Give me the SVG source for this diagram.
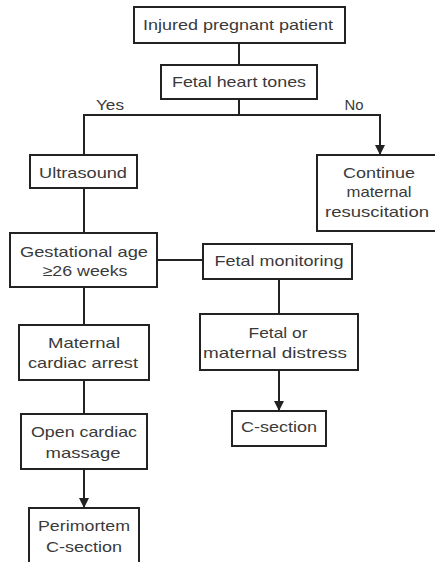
<svg xmlns="http://www.w3.org/2000/svg" width="435" height="562" viewBox="0 0 435 562">
<style>
.box{fill:#fff;stroke:#222;stroke-width:2}
.t{font-family:"Liberation Sans",Arial,sans-serif;font-size:15px;fill:#3a3a3a;text-anchor:middle}
.c{fill:none;stroke:#222;stroke-width:2}
</style>
<defs>
<marker id="ah" markerWidth="10" markerHeight="10" refX="9" refY="5" orient="auto" markerUnits="userSpaceOnUse">
<path d="M0,0 L10,5 L0,10 Z" fill="#222"/>
</marker>
</defs>
<rect width="435" height="562" fill="#fff"/>
<g id="connectors">
<line class="c" x1="239" y1="43" x2="239" y2="65"/>
<line class="c" x1="239" y1="99" x2="239" y2="115"/>
<polyline class="c" points="84,155 84,115 380,115 380,154" marker-end="url(#ah)"/>
<line class="c" x1="84" y1="188" x2="84" y2="233"/>
<line class="c" x1="157" y1="260" x2="203" y2="260"/>
<line class="c" x1="279" y1="279" x2="279" y2="314"/>
<line class="c" x1="84" y1="287" x2="84" y2="325"/>
<line class="c" x1="84" y1="380" x2="84" y2="414"/>
<line class="c" x1="84" y1="469" x2="84" y2="507" marker-end="url(#ah)"/>
<line class="c" x1="279" y1="370" x2="279" y2="410" marker-end="url(#ah)"/>
<text class="t" x="110" y="110" textLength="28" lengthAdjust="spacingAndGlyphs">Yes</text>
<text class="t" x="354" y="110" textLength="19" lengthAdjust="spacingAndGlyphs">No</text>
</g>
<g id="n1"><rect class="box" x="134" y="7" width="211" height="36"/>
<text class="t" x="238" y="30" textLength="190" lengthAdjust="spacingAndGlyphs">Injured pregnant patient</text></g>
<g id="n2"><rect class="box" x="161" y="65" width="156" height="34"/>
<text class="t" x="239" y="87" textLength="134" lengthAdjust="spacingAndGlyphs">Fetal heart tones</text></g>
<g id="n3"><rect class="box" x="30" y="155" width="107" height="33"/>
<text class="t" x="83" y="178" textLength="88" lengthAdjust="spacingAndGlyphs">Ultrasound</text></g>
<g id="n4"><rect class="box" x="317" y="155" width="124" height="76"/>
<text class="t" x="379" y="178" textLength="72" lengthAdjust="spacingAndGlyphs">Continue</text>
<text class="t" x="379" y="197" textLength="65" lengthAdjust="spacingAndGlyphs">maternal</text>
<text class="t" x="377" y="217" textLength="104" lengthAdjust="spacingAndGlyphs">resuscitation</text></g>
<g id="n5"><rect class="box" x="10" y="233" width="147" height="54"/>
<text class="t" x="84" y="257" textLength="128" lengthAdjust="spacingAndGlyphs">Gestational age</text>
<text class="t" x="85" y="276" textLength="85" lengthAdjust="spacingAndGlyphs">≥26 weeks</text></g>
<g id="n6"><rect class="box" x="203" y="244" width="149" height="35"/>
<text class="t" x="279" y="266" textLength="129" lengthAdjust="spacingAndGlyphs">Fetal monitoring</text></g>
<g id="n7"><rect class="box" x="200" y="314" width="158" height="56"/>
<text class="t" x="278" y="338" textLength="59" lengthAdjust="spacingAndGlyphs">Fetal or</text>
<text class="t" x="275" y="358" textLength="144" lengthAdjust="spacingAndGlyphs">maternal distress</text></g>
<g id="n8"><rect class="box" x="19" y="325" width="130" height="55"/>
<text class="t" x="84" y="348" textLength="72" lengthAdjust="spacingAndGlyphs">Maternal</text>
<text class="t" x="83" y="368" textLength="110" lengthAdjust="spacingAndGlyphs">cardiac arrest</text></g>
<g id="n9"><rect class="box" x="21" y="414" width="126" height="55"/>
<text class="t" x="84" y="437" textLength="106" lengthAdjust="spacingAndGlyphs">Open cardiac</text>
<text class="t" x="83" y="458" textLength="75" lengthAdjust="spacingAndGlyphs">massage</text></g>
<g id="n10"><rect class="box" x="232" y="411" width="94" height="35"/>
<text class="t" x="279" y="432" textLength="76" lengthAdjust="spacingAndGlyphs">C-section</text></g>
<g id="n11"><rect class="box" x="29" y="508" width="110" height="60"/>
<text class="t" x="84" y="531" textLength="92" lengthAdjust="spacingAndGlyphs">Perimortem</text>
<text class="t" x="84" y="552" textLength="76" lengthAdjust="spacingAndGlyphs">C-section</text></g>
</svg>
